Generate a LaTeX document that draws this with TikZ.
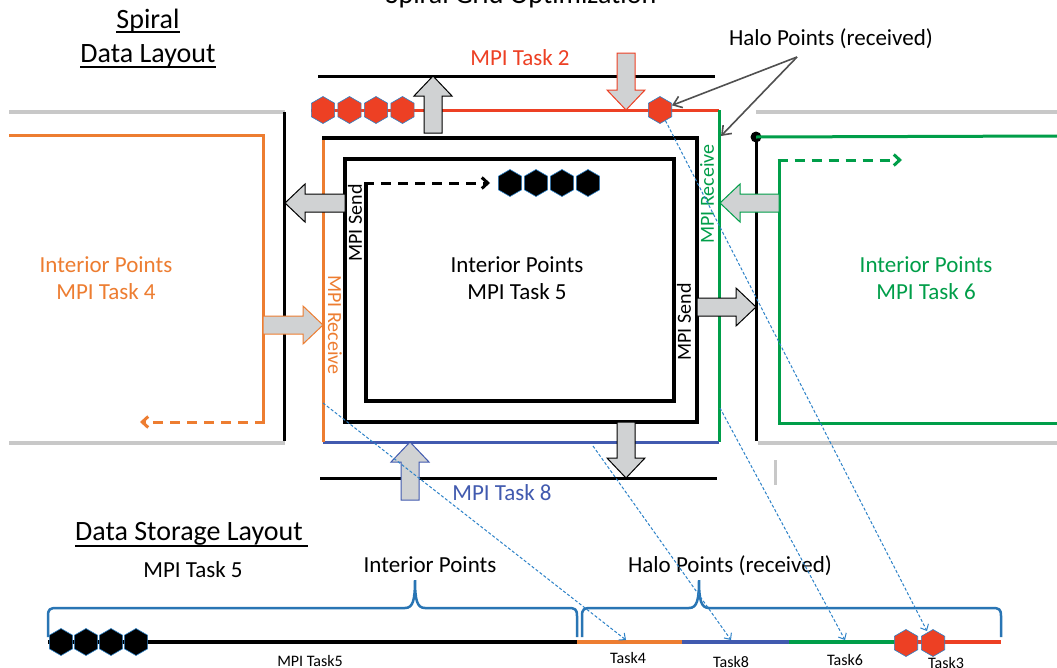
\documentclass[tikz,border=0pt]{standalone}
\usepackage{fontspec}
\setmainfont{Carlito}
\usetikzlibrary{positioning, arrows.meta, calc, shapes.geometric}
\definecolor{taskRed}{RGB}{237,64,36}
\definecolor{taskOrange}{RGB}{237,125,49}
\definecolor{taskGreen}{RGB}{0,158,73}
\definecolor{taskBlue}{RGB}{65,90,175}
\definecolor{arrowGray}{RGB}{208,210,211}
\definecolor{borderGray}{RGB}{200,200,200}
\definecolor{linkBlue}{RGB}{45,130,200}
\definecolor{haloGray}{RGB}{80,80,80}
\tikzset{
  lbl/.style={inner sep=0pt, anchor=base, font=\fontsize{23}{27}\selectfont},
  head/.style={lbl, font=\fontsize{28}{32}\selectfont},
  vlbl/.style={inner sep=0pt, font=\fontsize{20}{24}\selectfont},
  small/.style={lbl, font=\fontsize{16}{19}\selectfont},
  uline/.style={line width=1.4pt},
  hexa/.style={regular polygon, regular polygon sides=6, shape border rotate=30,
    minimum size=27pt, inner sep=0pt, draw=linkBlue, line width=0.6pt},
  frame/.style={line width=3.5pt, line join=miter},
  ring/.style={line width=3pt},
  grayline/.style={line width=4pt, borderGray},
  seg/.style={line width=4pt},
  brace/.style={line width=2.5pt, linkBlue!90!black},
  linkarr/.style={linkBlue, line width=1pt, dash pattern=on 3pt off 2pt,
    -{Straight Barb[length=5pt, width=9pt]}},
  halo/.style={haloGray, line width=1.6pt, -{Straight Barb[length=8pt, width=12pt]}},
  flowdash/.style={line width=3pt, dash pattern=on 10pt off 7pt,
    -{Straight Barb[length=6pt, width=11pt]}},
  blk/.style={fill=arrowGray, line width=1pt, line join=miter},
  pics/blockarrow/.style 2 args={code={
    \draw[blk, draw=#2] (0,-9) -- ({#1-20},-9) -- ({#1-20},-19) -- (#1,0)
      -- ({#1-20},19) -- ({#1-20},9) -- (0,9) -- cycle;}},
}
\begin{document}
\begin{tikzpicture}[x=1pt, y=-1pt]
  \fill[white] (0,0) rectangle (1057,667);
  \useasboundingbox (0,0) rectangle (1057,667);

  % headings
  \node[head] (title) at (521,3) {Spiral Grid Optimization};
  \node[head] (hdSpiral) at (148,28) {Spiral};
  \node[head] (hdLayout) at (148,62) {Data Layout};
  \draw[uline] ($(hdSpiral.base west)+(0,4)$) -- ($(hdSpiral.base east)+(0,4)$);
  \draw[uline] ($(hdLayout.base west)+(0,5)$) -- ($(hdLayout.base east)+(0,5)$);

  % neighbour tasks
  \draw[grayline] (9,112) -- (285,112);
  \draw[grayline] (9,443) -- (285,443);
  \draw[line width=3pt] (284,112) -- (284,441);
  \draw[taskOrange, ring] (9,135) -- (263,135) -- (263,422);
  \draw[taskOrange, flowdash] (264.5,422) -- (140,422);

  \draw[grayline] (756,112) -- (1057,112);
  \draw[grayline] (758,443) -- (1057,443);
  \draw[grayline, line width=3pt] (775,460) -- (775,485);
  \node[circle, fill=black, minimum size=11pt, inner sep=0pt] (dot6) at (756,137) {};
  \draw[line width=3pt] (dot6.center) -- (756,441);
  \draw[taskGreen, ring] (dot6.center) -- (1057,136);
  \draw[taskGreen, ring] (1057,423) -- (779,423) -- (779,160);
  \draw[taskGreen, flowdash] (777.5,160) -- (902,160);

  % task 5 spiral
  \draw[line width=3pt] (318,76) -- (715,76);
  \draw[line width=3pt] (320,478) -- (717,478);
  \draw[taskRed, ring] (311,110) -- (719,110);
  \draw[taskGreen, ring] (719,110) -- (719,442);
  \draw[taskBlue, ring] (719,442) -- (323,442);
  \draw[taskOrange, ring] (323,442) -- (323,138);
  \draw[frame] (322,138) -- (697,138) -- (697,422) -- (345,422) -- (345,159)
    -- (674,159) -- (674,401) -- (366,401) -- (366,183);
  \draw[flowdash] (364.25,183) -- (490,183);

  \foreach \x [count=\k] in {323,349.5,376,402.5}
    \node[hexa, fill=taskRed] (hexT\k) at (\x,110) {};
  \node[hexa, fill=taskRed] (haloHex) at (660,110) {};
  \foreach \x [count=\k] in {510,536,562,588}
    \node[hexa, fill=black] (hexI\k) at (\x,183) {};

  % send / receive
  \pic[rotate=90] at (433,133) {blockarrow={57}{black}};
  \pic[rotate=-90] at (626,53) {blockarrow={57}{taskRed}};
  \pic[rotate=180] at (345,203) {blockarrow={60}{black}};
  \pic at (263,325) {blockarrow={60}{taskOrange}};
  \pic at (697,307) {blockarrow={59}{black}};
  \pic[rotate=180] at (779,203) {blockarrow={59}{taskGreen}};
  \pic[rotate=-90] at (626,422) {blockarrow={56}{black}};
  \pic[rotate=90] at (410,500) {blockarrow={58}{taskBlue}};

  \node[vlbl, rotate=90] (sendL) at (355,223) {MPI Send};
  \node[vlbl, rotate=-90, text=taskOrange] (recvL) at (335,325) {MPI Receive};
  \node[vlbl, rotate=90] (sendR) at (684,322) {MPI Send};
  \node[vlbl, rotate=90, text=taskGreen] (recvR) at (707,194) {MPI Receive};

  \node[lbl, text=taskRed] (task2) at (520,65) {MPI Task 2};
  \node[lbl, text=taskBlue] (task8) at (502,500) {MPI Task 8};
  \node[lbl, text=taskOrange] (int4) at (106,272) {Interior Points};
  \node[lbl, text=taskOrange] (task4) at (106,299) {MPI Task 4};
  \node[lbl] (int5) at (517,272) {Interior Points};
  \node[lbl] (task5) at (517,299) {MPI Task 5};
  \node[lbl, text=taskGreen] (int6) at (926,272) {Interior Points};
  \node[lbl, text=taskGreen] (task6) at (926,299) {MPI Task 6};

  \node[lbl] (haloLbl) at (831,45) {Halo Points (received)};
  \coordinate (haloSrc) at (797,57);
  \coordinate (grnTop) at (721,136);
  \draw[halo] (haloSrc) -- (haloHex);
  \draw[halo] (haloSrc) -- (grnTop);

  % storage layout
  \node[head, anchor=base west] (hdStore) at (75,540) {Data Storage Layout};
  \draw[uline] ($(hdStore.base west)+(0,6)$) -- ($(hdStore.base east)+(5,6)$);
  \node[lbl] (store5) at (193,577) {MPI Task 5};
  \node[lbl] (intLbl) at (430,572) {Interior Points};
  \node[lbl] (haloStore) at (730,572) {Halo Points (received)};

  \draw[brace] (48,637) -- (48,616) .. controls (48,609) and (50,608) .. (57,608)
    -- (405,608) .. controls (413,608) and (415,600) .. (415,580)
    .. controls (415,600) and (417,608) .. (425,608) -- (568,608)
    .. controls (575,608) and (577,609) .. (577,616) -- (577,637);
  \draw[brace] (582,637) -- (582,616) .. controls (582,609) and (584,608) .. (591,608)
    -- (689,608) .. controls (697,608) and (699,600) .. (699,580)
    .. controls (699,600) and (701,608) .. (709,608) -- (992,608)
    .. controls (999,608) and (1001,609) .. (1001,616) -- (1001,637);

  \draw[seg] (48,642) -- (577,642);
  \draw[seg, taskOrange] (577,642) -- (682,642);
  \draw[seg, taskBlue] (682,642) -- (789,642);
  \draw[seg, taskGreen] (789,642) -- (897,642);
  \draw[seg, taskRed] (897,642) -- (1001,642);
  \foreach \x [count=\k] in {61,86,111,136}
    \node[hexa, fill=black] (hexS\k) at (\x,642) {};
  \node[hexa, fill=taskRed] (hexR1) at (906,643) {};
  \node[hexa, fill=taskRed] (hexR2) at (933,643) {};

  \node[small] (lblS5) at (310,666) {MPI Task5};
  \node[small] (lblS4) at (628,663) {Task4};
  \node[small] (lblS8) at (731,667) {Task8};
  \node[small] (lblS6) at (845,665) {Task6};
  \node[small] (lblS3) at (946,668) {Task3};

  % halo copies
  \coordinate (o4) at (323,403);
  \coordinate (b8) at (593,446);
  \coordinate (g6) at (720,408);
  \coordinate (s4) at (626,640);
  \coordinate (s8) at (731,640);
  \coordinate (s6) at (845,640);
  \coordinate (s3) at (927,631);
  \draw[linkarr] (haloHex) -- (s3);
  \draw[linkarr] (g6) -- (s6);
  \draw[linkarr] (b8) -- (s8);
  \draw[linkarr] (o4) -- (s4);
\end{tikzpicture}
\end{document}
